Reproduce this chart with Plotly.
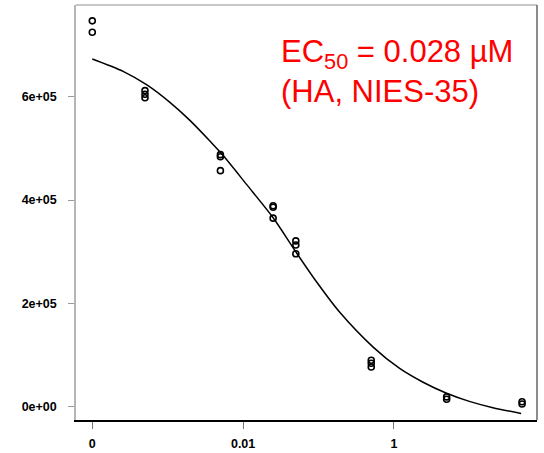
import plotly.graph_objects as go

# Observed data (concentration in µM; control plotted at 1e-4 and labelled "0")
conc = [1e-4, 1e-4,
        5e-4, 5e-4, 5e-4,
        5e-3, 5e-3, 5e-3,
        0.025, 0.025, 0.025,
        0.05, 0.05, 0.05,
        0.5, 0.5, 0.5,
        5, 5,
        50, 50]
response = [747000, 725000,
            612000, 605000, 598000,
            488000, 484000, 457000,
            389000, 386000, 365000,
            321000, 313000, 296000,
            90000, 84000, 77000,
            19000, 14500,
            9700, 5200]

# Fitted dose-response curve
curve_x = [1e-4, 2.6e-4, 5.3e-4, 1.07e-3, 1.97e-3, 3.6e-3, 5.2e-3, 0.0111, 0.025,
           0.051, 0.094, 0.19, 0.53, 1.19, 2.4, 4.9, 10, 20.5, 48.6]
curve_y = [673200, 648800, 623000, 589200, 554300, 514800, 489500, 430400, 365900,
           298000, 241800, 183200, 115400, 74000, 47800, 26500, 10300, -1900, -13000]

x_tickvals = [1e-4, 1e-2, 1]
x_ticktext = ["0", "0.01", "1"]
y_tickvals = [0, 200000, 400000, 600000]
y_ticktext = ["0e+00", "2e+05", "4e+05", "6e+05"]

fig = go.Figure()
fig.add_trace(go.Scatter(
    x=curve_x, y=curve_y, mode="lines", line=dict(color="black", width=1.5, shape="spline", smoothing=0.8),
    hoverinfo="skip", showlegend=False))
fig.add_trace(go.Scatter(
    x=conc, y=response, mode="markers",
    marker=dict(symbol="circle-open", size=6, color="black", line=dict(width=1.6)),
    showlegend=False))

tickfont = dict(family="Liberation Sans, Arial", size=12.5, color="black", weight="bold")
fig.update_layout(
    width=544, height=453,
    margin=dict(l=76, r=6.5, t=5, b=33),
    paper_bgcolor="white", plot_bgcolor="white",
    xaxis=dict(type="log", range=[-4.216, 1.897], tickvals=x_tickvals, ticktext=x_ticktext,
               showgrid=False, zeroline=False, showline=True, linecolor="black", linewidth=1.5,
               ticks="outside", ticklen=7, tickcolor="#777777", tickwidth=1,
               tickfont=tickfont, ticklabelstandoff=4, automargin=False),
    yaxis=dict(range=[-25750, 777700], tickvals=y_tickvals, ticktext=y_ticktext,
               showgrid=False, zeroline=False, showline=True, linecolor="#b5b5b5", linewidth=1.5,
               ticks="outside", ticklen=6, tickcolor="#999999", tickwidth=1,
               tickfont=tickfont, ticklabelstandoff=9, automargin=False),
    shapes=[
        dict(type="line", xref="paper", yref="paper", x0=0, x1=1, y0=1, y1=1,
             line=dict(color="#b5b5b5", width=1.5)),
        dict(type="line", xref="paper", yref="paper", x0=1, x1=1, y0=0, y1=1,
             line=dict(color="#666666", width=1.5)),
    ],
    annotations=[dict(
        xref="paper", yref="paper", x=0.441, y=0.9345, xanchor="left", yanchor="top",
        align="left", showarrow=False,
        text="EC<sub>50</sub> = 0.028 µM<br>(HA, NIES-35)",
        font=dict(family="Liberation Sans, Arial", size=31, color="#ff0000"))],
)
fig.write_html("out.html")
